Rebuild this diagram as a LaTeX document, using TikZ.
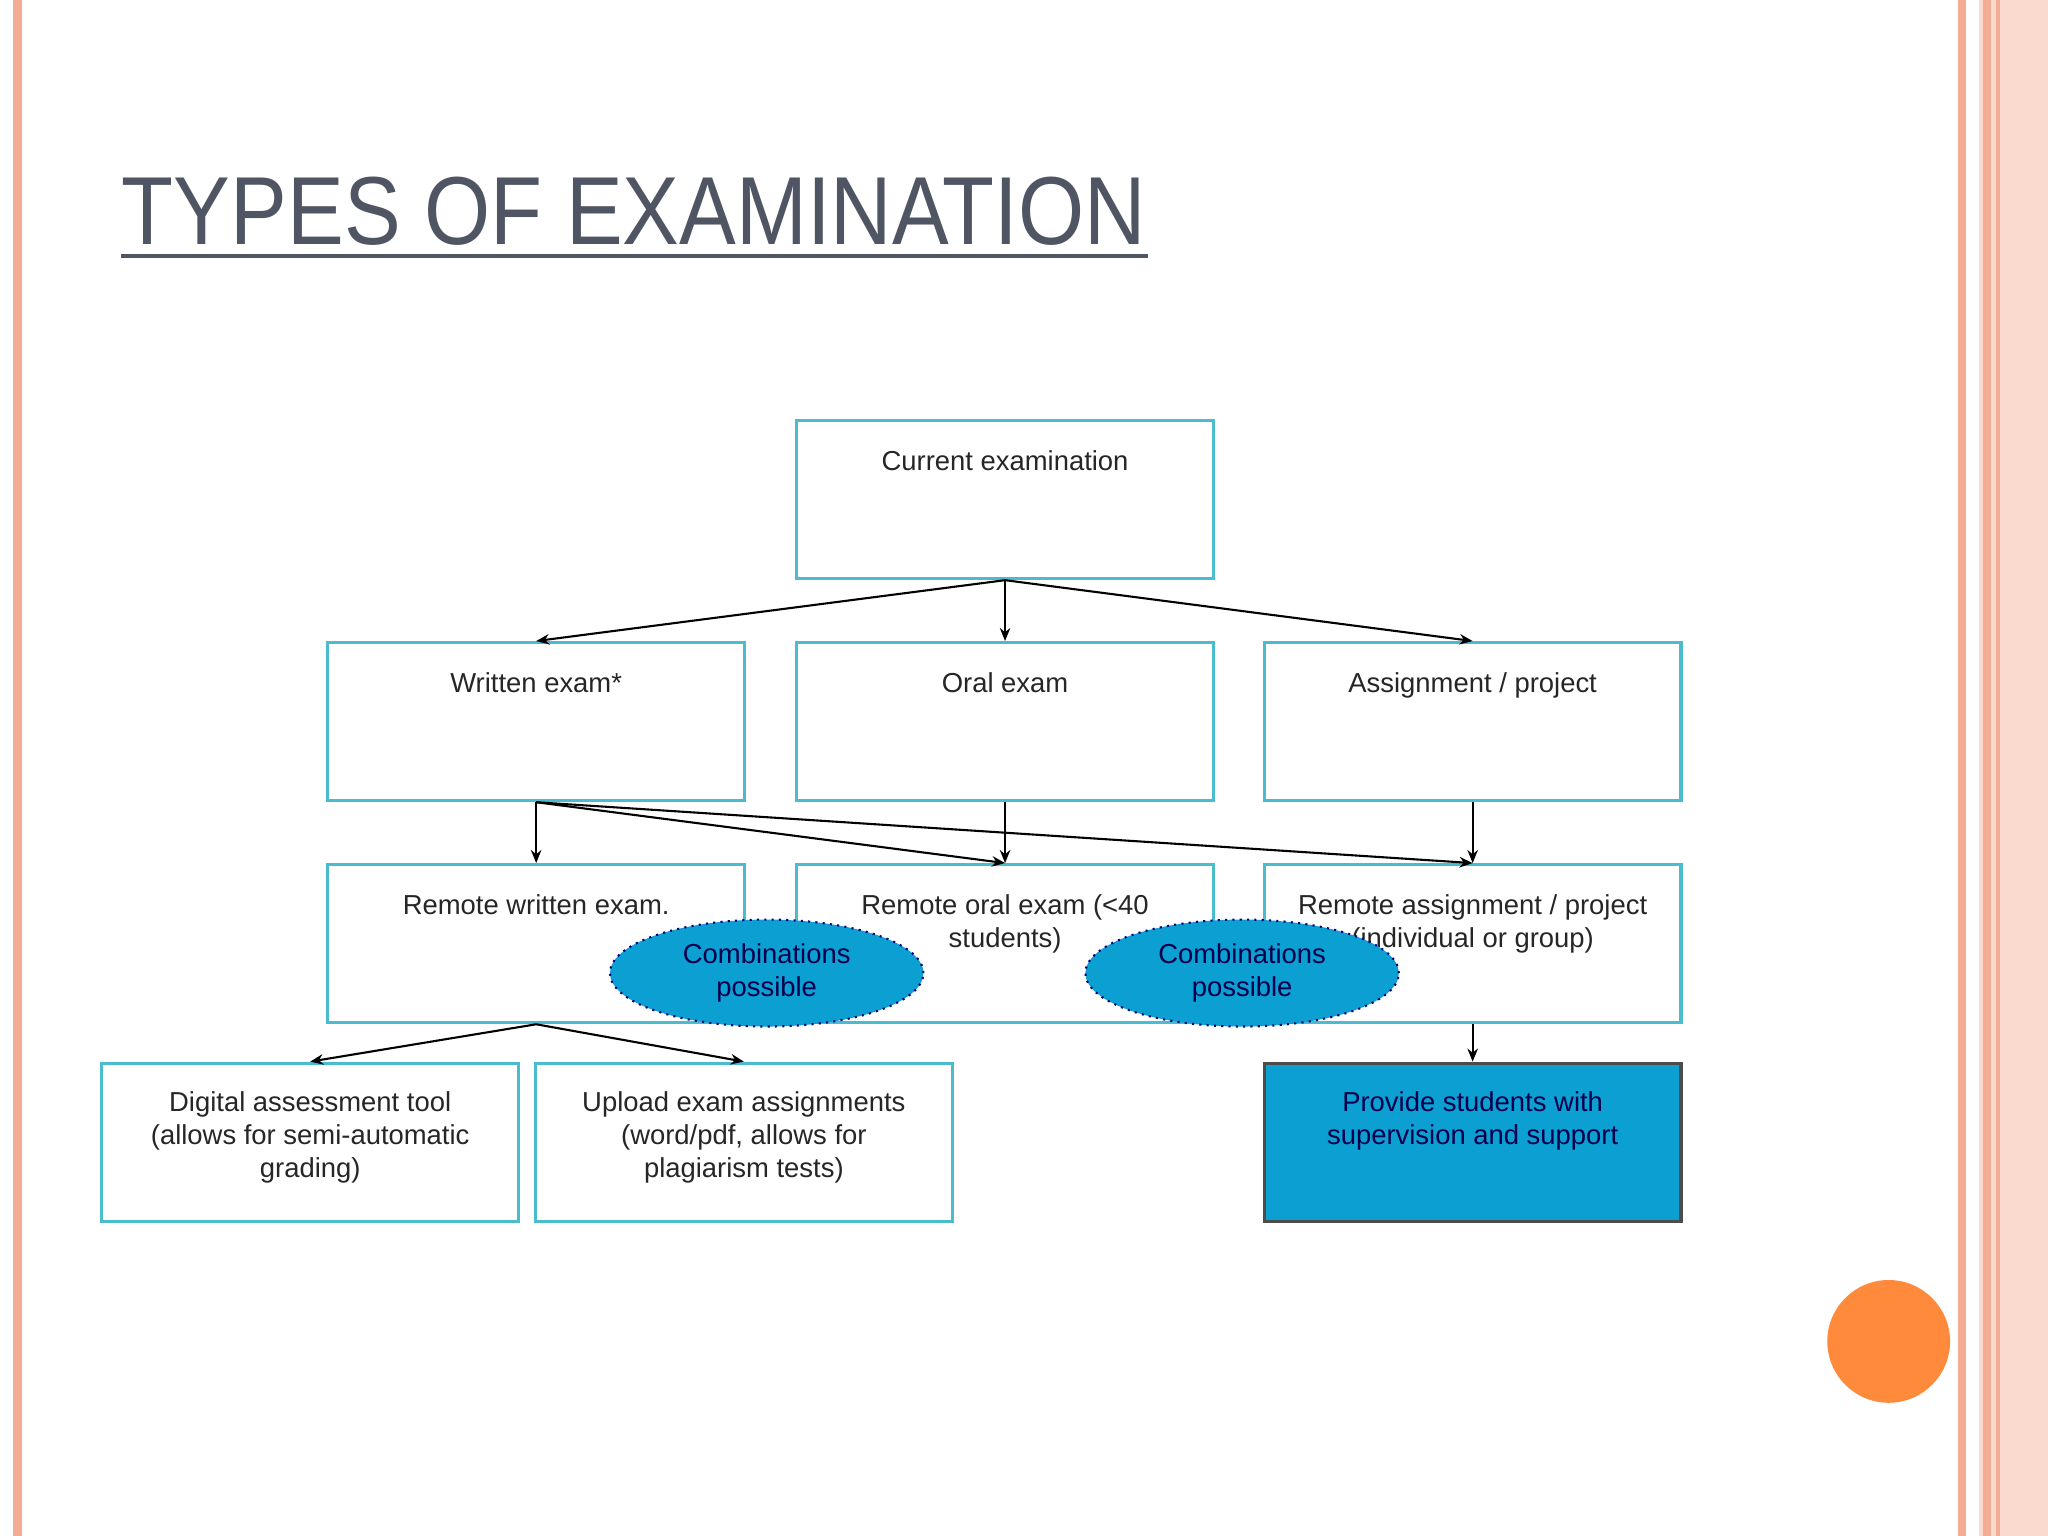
\documentclass[tikz,border=0pt]{standalone}
\usepackage{fontspec}
\setmainfont{Liberation Sans}
\usetikzlibrary{arrows.meta,shapes.geometric}
\definecolor{cyanb}{HTML}{4BBCD0}
\definecolor{fillb}{HTML}{0C9FD2}
\definecolor{salmon}{HTML}{F5AC94}
\definecolor{titlec}{HTML}{4F5563}
\definecolor{orangec}{HTML}{FF8A3C}
\tikzset{
 box/.style={draw=cyanb,line width=1.2pt,minimum width=159.5pt,minimum height=60.5pt,inner sep=0pt},
 txt/.style={font=\fontsize{10.5}{12.5}\selectfont,align=center,anchor=north,text=black!85},
 arr/.style={-{Stealth[length=5pt,width=4pt]},line width=0.8pt},
 comb/.style={ellipse,draw=blue!50!black,dotted,line width=0.8pt,fill=fillb,minimum width=120pt,minimum height=32pt,font=\fontsize{10.5}{12.5}\selectfont,align=center,text=blue!30!black}
}
\begin{document}
\begin{tikzpicture}[x=0.5pt,y=-0.5pt]
\useasboundingbox (0,0) rectangle (1568,1176);
\fill[white] (0,0) rectangle (1568,1176);
\fill[salmon] (10,0) rectangle (17,1176);
\fill[salmon] (1499,0) rectangle (1505,1176);
\fill[salmon!45] (1515,0) rectangle (1568,1176);
\fill[salmon] (1518,0) rectangle (1524,1176);
\fill[salmon] (1528,0) rectangle (1531,1176);
\node[anchor=base west,inner sep=0pt,text=titlec] (title) at (93,187) {\scalebox{0.88}[1]{\fontsize{37}{40}\selectfont TYPES OF EXAMINATION}};
\draw[titlec,line width=1.5pt] (title.base west)++(0,9) -- ++(786,0);
\fill[orangec] (1446,1027) circle (47);
\node[box] (cur) at (769.5,382.5) {};
\node[txt] (curt) at (769.5,338) {Current examination};
\node[box] (wr) at (410.5,552.5) {};
\node[txt] (wrt) at (410.5,508) {Written exam*};
\node[box] (or) at (769.5,552.5) {};
\node[txt] (ort) at (769.5,508) {Oral exam};
\node[box] (as) at (1127.5,552.5) {};
\node[txt] (ast) at (1127.5,508) {Assignment / project};
\node[box] (rw) at (410.5,722.5) {};
\node[txt] (rwt) at (410.5,678) {Remote written exam.};
\node[box] (ro) at (769.5,722.5) {};
\node[txt] (rot) at (769.5,678) {Remote oral exam (<40\\students)};
\node[box] (ra) at (1127.5,722.5) {};
\node[txt] (rat) at (1127.5,678) {Remote assignment / project\\(individual or group)};
\node[box] (dg) at (237.5,874.5) {};
\node[txt] (dgt) at (237.5,829) {Digital assessment tool\\(allows for semi-automatic\\grading)};
\node[box] (up) at (569.5,874.5) {};
\node[txt] (upt) at (569.5,829) {Upload exam assignments\\(word/pdf, allows for\\plagiarism tests)};
\node[box,fill=fillb,draw=black!70] (pr) at (1127.5,874.5) {};
\node[txt,text=blue!30!black] (prt) at (1127.5,829) {Provide students with\\supervision and support};
\node[comb] (c1) at (587,745) {Combinations\\possible};
\node[comb] (c2) at (951,745) {Combinations\\possible};
\draw[arr] (cur.south) -- (wr.north);
\draw[arr] (cur.south) -- (or.north);
\draw[arr] (cur.south) -- (as.north);
\draw[arr] (wr.south) -- (rw.north);
\draw[arr] (wr.south) -- (ro.north);
\draw[arr] (wr.south) -- (ra.north);
\draw[arr] (or.south) -- (ro.north);
\draw[arr] (as.south) -- (ra.north);
\draw[arr] (rw.south) -- (dg.north);
\draw[arr] (rw.south) -- (up.north);
\draw[arr] (ra.south) -- (pr.north);
\end{tikzpicture}
\end{document}
